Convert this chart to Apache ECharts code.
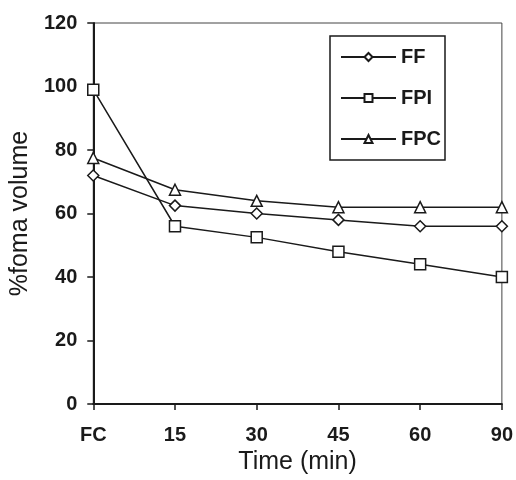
<!DOCTYPE html>
<html>
<head>
<meta charset="utf-8">
<script src="https://cdn.jsdelivr.net/npm/echarts@6/dist/echarts.min.js"></script>
<style>
  html, body { margin: 0; padding: 0; background: #fff; }
  #chart { width: 516px; height: 480px; }
</style>
</head>
<body>
<div id="chart"></div>
<script>
const categories = ['FC', '15', '30', '45', '60', '90']
const ff = [72, 62.5, 60, 58, 56, 56]
const fpi = [99, 56, 52.5, 48, 44, 40]
const fpc = [77.5, 67.5, 64, 62, 62, 62]
const yTicks = { min: 0, max: 120, interval: 20 }

const ink = '#1a1a1a'
const font = 'Liberation Sans, Arial, sans-serif'

function lineSeries(name, data, symbol) {
  return {
    name,
    type: 'line',
    data,
    symbol,
    symbolSize: 11,
    showAllSymbol: true,
    lineStyle: { color: ink, width: 1.5 },
    itemStyle: { color: '#fff', borderColor: ink, borderWidth: 1.5 },
    emphasis: { disabled: true },
    z: 3
  }
}

const chart = echarts.init(document.getElementById('chart'))
const option = {
  backgroundColor: '#fff',
  animation: false,
  grid: {
    left: 81,
    right: 14,
    top: 23,
    bottom: 74,
    show: true,
    borderColor: '#444',
    borderWidth: 1
  },
  legend: {
    orient: 'vertical',
    left: 330,
    top: 36,
    padding: [10, 4, 10, 10],
    itemWidth: 55,
    itemHeight: 10,
    itemGap: 19,
    borderColor: ink,
    borderWidth: 1.5,
    textStyle: { fontFamily: font, fontSize: 20, fontWeight: 'bold', color: ink, lineHeight: 22 },
    data: ['FF', 'FPI', 'FPC']
  },
  xAxis: {
    type: 'category',
    data: categories,
    boundaryGap: false,
    name: 'Time (min)',
    nameLocation: 'middle',
    nameGap: 42,
    nameTextStyle: { fontFamily: font, fontSize: 25, color: ink },
    axisLine: { lineStyle: { color: ink, width: 2 } },
    axisTick: { inside: false, length: 6, lineStyle: { color: ink, width: 1.5 } },
    axisLabel: { fontFamily: font, fontSize: 20, fontWeight: 'bold', color: ink, margin: 21 },
    splitLine: { show: false }
  },
  yAxis: {
    type: 'value',
    min: yTicks.min,
    max: yTicks.max,
    interval: yTicks.interval,
    name: '%foma volume',
    nameLocation: 'middle',
    nameGap: 48,
    nameTextStyle: { fontFamily: font, fontSize: 25, color: ink },
    axisLine: { show: true, lineStyle: { color: ink, width: 2 } },
    axisTick: { show: true, length: 6, lineStyle: { color: ink, width: 1.5 } },
    axisLabel: { fontFamily: font, fontSize: 20, fontWeight: 'bold', color: ink, margin: 16 },
    splitLine: { show: false }
  },
  series: [
    lineSeries('FF', ff, 'diamond'),
    lineSeries('FPI', fpi, 'rect'),
    lineSeries('FPC', fpc, 'triangle')
  ]
}
chart.setOption(option)
</script>
</body>
</html>
